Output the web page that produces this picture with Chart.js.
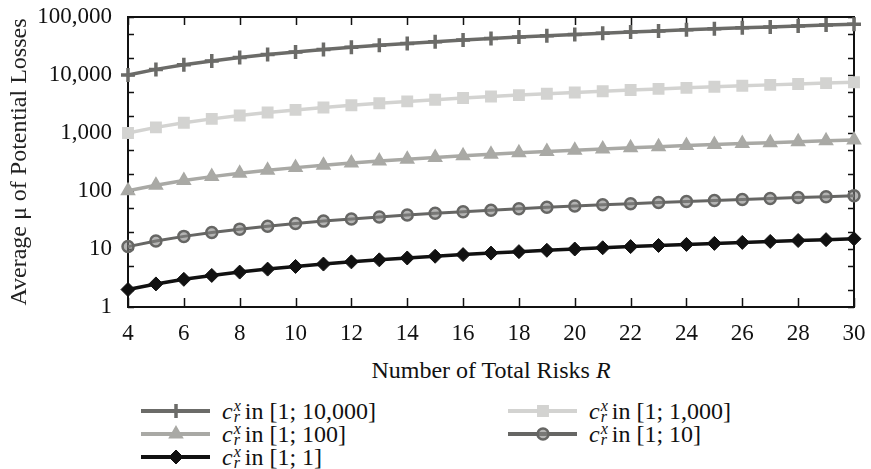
<!DOCTYPE html>
<html lang="en">
<head>
  <meta charset="UTF-8" />
  <title>Average μ of Potential Losses</title>
  <script src="https://cdn.jsdelivr.net/npm/chart.js@4.4.1/dist/chart.umd.min.js"></script>
  <style>
    body {
      margin: 0;
      background: #fff;
      color: #111;
      font-family: 'Liberation Serif', serif;
    }

    .wrap {
      position: relative;
      width: 871px;
      height: 469px;
      overflow: hidden;
    }

    #lossChart {
      position: absolute;
      left: 0;
      top: 0;
    }

    .x-title {
      position: absolute;
      left: 491px;
      top: 356px;
      transform: translateX(-50%);
      font-size: 24px;
      line-height: 28px;
      white-space: nowrap;
    }

    .item {
      position: absolute;
      display: flex;
      align-items: center;
      height: 24px;
      font-size: 24px;
      line-height: 24px;
      white-space: nowrap;
    }

    .item canvas {
      margin-right: 8px;
    }

    .stack {
      display: inline-block;
      vertical-align: middle;
      font-size: 16px;
      line-height: 11px;
      font-style: italic;
      margin: -4px 4px 0 1px;
    }

    .stack span {
      display: block;
    }
  </style>
</head>
<body>
  <div class="wrap">
    <canvas id="lossChart" width="871" height="350"></canvas>
    <div class="x-title">Number of Total Risks <i>R</i></div>
    <div id="legend"></div>
  </div>

  <script>
    // values
    const totalRisks = [4, 5, 6, 7, 8, 9, 10, 11, 12, 13, 14, 15, 16, 17, 18, 19, 20, 21, 22, 23, 24, 25, 26, 27, 28, 29, 30];

    const range10000 = [10001, 12501, 15002, 17502, 20002, 22502, 25003, 27503, 30003, 32503, 35004, 37504, 40004, 42504, 45005, 47505, 50005, 52505, 55006, 57506, 60006, 62506, 65007, 67507, 70007, 72507, 75008];
    const range1000 = [1001, 1251, 1502, 1752, 2002, 2252, 2503, 2753, 3003, 3253, 3504, 3754, 4004, 4254, 4505, 4755, 5005, 5255, 5506, 5756, 6006, 6256, 6507, 6757, 7007, 7257, 7508];
    const range100 = [101, 126, 152, 177, 202, 227, 253, 278, 303, 328, 354, 379, 404, 429, 455, 480, 505, 530, 556, 581, 606, 631, 657, 682, 707, 732, 758];
    const range10 = [11, 13.75, 16.5, 19.25, 22, 24.75, 27.5, 30.25, 33, 35.75, 38.5, 41.25, 44, 46.75, 49.5, 52.25, 55, 57.75, 60.5, 63.25, 66, 68.75, 71.5, 74.25, 77, 79.75, 82.5];
    const range1 = [2, 2.5, 3, 3.5, 4, 4.5, 5, 5.5, 6, 6.5, 7, 7.5, 8, 8.5, 9, 9.5, 10, 10.5, 11, 11.5, 12, 12.5, 13, 13.5, 14, 14.5, 15];

    const rangeLabels = ['10,000', '1,000', '100', '10', '1'];
    const yTickValues = [1, 2, 5, 10, 20, 50, 100, 200, 500, 1000, 2000, 5000, 10000, 20000, 50000, 100000];

    const FONT = 'Liberation Serif';

    const series = [
      { data: range10000, color: '#6b6b68', fill: '#6b6b68', style: 'cross', radius: 7, pointBorder: 3.5, width: 3.5 },
      { data: range1000, color: '#d3d3d1', fill: '#d3d3d1', style: 'rect', radius: 7, pointBorder: 2, width: 3.5 },
      { data: range100, color: '#a9a9a5', fill: '#a9a9a5', style: 'triangle', radius: 7.5, pointBorder: 1.5, width: 3.5 },
      { data: range10, color: '#666664', fill: 'rgba(130,130,128,0.6)', style: 'circle', radius: 5.5, pointBorder: 2.5, width: 3 },
      { data: range1, color: '#111111', fill: '#111111', style: 'rectRot', radius: 7, pointBorder: 1, width: 3.5 }
    ];

    // inward tick marks + box frame
    const frameTicks = {
      id: 'frameTicks',
      beforeDatasetsDraw(chart) {
        const { ctx, chartArea: a, scales: { x, y } } = chart;
        ctx.save();
        ctx.strokeStyle = '#111';
        ctx.lineWidth = 1.5;
        ctx.beginPath();
        x.ticks.forEach(t => {
          const px = Math.round(x.getPixelForValue(t.value)) + 0.5;
          ctx.moveTo(px, a.bottom); ctx.lineTo(px, a.bottom - 9);
          ctx.moveTo(px, a.top); ctx.lineTo(px, a.top + 8);
        });
        y.ticks.forEach(t => {
          const py = Math.round(y.getPixelForValue(t.value)) + 0.5;
          ctx.moveTo(a.left, py); ctx.lineTo(a.left + 6, py);
          ctx.moveTo(a.right, py); ctx.lineTo(a.right - 6, py);
        });
        ctx.stroke();
        ctx.lineWidth = 2;
        ctx.strokeRect(a.left, a.top, a.right - a.left, a.bottom - a.top);
        ctx.restore();
      }
    };

    const ctx = document.getElementById('lossChart').getContext('2d');
    new Chart(ctx, {
      type: 'line',
      data: {
        datasets: series.map(s => ({
          data: s.data.map((v, i) => ({ x: totalRisks[i], y: v })),
          borderColor: s.color,
          borderWidth: s.width,
          backgroundColor: s.fill,
          pointStyle: s.style,
          pointRadius: s.radius,
          pointBorderWidth: s.pointBorder,
          pointBorderColor: s.color,
          pointBackgroundColor: s.fill,
          tension: 0,
          clip: false
        })).reverse()
      },
      options: {
        responsive: false,
        animation: false,
        layout: { padding: { top: 17, right: 17, bottom: 0, left: 0 } },
        plugins: {
          legend: { display: false },
          tooltip: { enabled: false }
        },
        scales: {
          x: {
            type: 'linear',
            min: 4,
            max: 30,
            grid: { display: false, drawTicks: false },
            border: { display: false },
            ticks: {
              stepSize: 2,
              autoSkip: false,
              maxRotation: 0,
              padding: 13,
              color: '#111',
              font: { family: FONT, size: 23 }
            },
            afterFit(scale) {
              scale.height = 43;
              scale.paddingLeft = 0;
              scale.paddingRight = 0;
            }
          },
          y: {
            type: 'logarithmic',
            min: 1,
            max: 100000,
            grid: { display: false, drawTicks: false },
            border: { display: false },
            afterBuildTicks(scale) {
              scale.ticks = yTickValues.map(v => ({ value: v }));
            },
            ticks: {
              autoSkip: false,
              padding: 16,
              color: '#111',
              font: { family: FONT, size: 23 },
              callback: v => (Math.log10(v) % 1 === 0 ? v.toLocaleString('en-US') : '')
            },
            title: {
              display: true,
              text: 'Average μ of Potential Losses',
              color: '#222',
              font: { family: FONT, size: 24 },
              padding: { top: 5, bottom: 0 }
            },
            afterFit(scale) {
              scale.width = 128;
              scale.paddingTop = 0;
              scale.paddingBottom = 0;
            }
          }
        }
      },
      plugins: [frameTicks]
    });

    // legend built in HTML (two columns)
    const legendPos = [
      { left: 138, top: 399 },
      { left: 505, top: 399 },
      { left: 138, top: 422 },
      { left: 505, top: 422 },
      { left: 138, top: 445 }
    ];

    const legend = document.getElementById('legend');
    series.forEach((s, i) => {
      const item = document.createElement('div');
      item.className = 'item';
      item.style.left = legendPos[i].left + 'px';
      item.style.top = legendPos[i].top + 'px';

      const sample = document.createElement('canvas');
      sample.width = 76;
      sample.height = 20;
      const g = sample.getContext('2d');
      g.strokeStyle = s.color;
      g.lineWidth = 4;
      g.beginPath();
      g.moveTo(3, 10);
      g.lineTo(72, 10);
      g.stroke();
      g.fillStyle = s.fill;
      g.lineWidth = s.pointBorder;
      if (Chart.helpers && Chart.helpers.drawPoint) {
        Chart.helpers.drawPoint(g, { pointStyle: s.style, radius: s.radius, borderWidth: s.pointBorder, rotation: 0 }, 38, 10);
      }
      item.appendChild(sample);

      const label = document.createElement('span');
      label.innerHTML = '<i>c</i><span class="stack"><span>x</span><span>r</span></span>in [1; ' + rangeLabels[i] + ']';
      item.appendChild(label);
      legend.appendChild(item);
    });
  </script>
</body>
</html>
